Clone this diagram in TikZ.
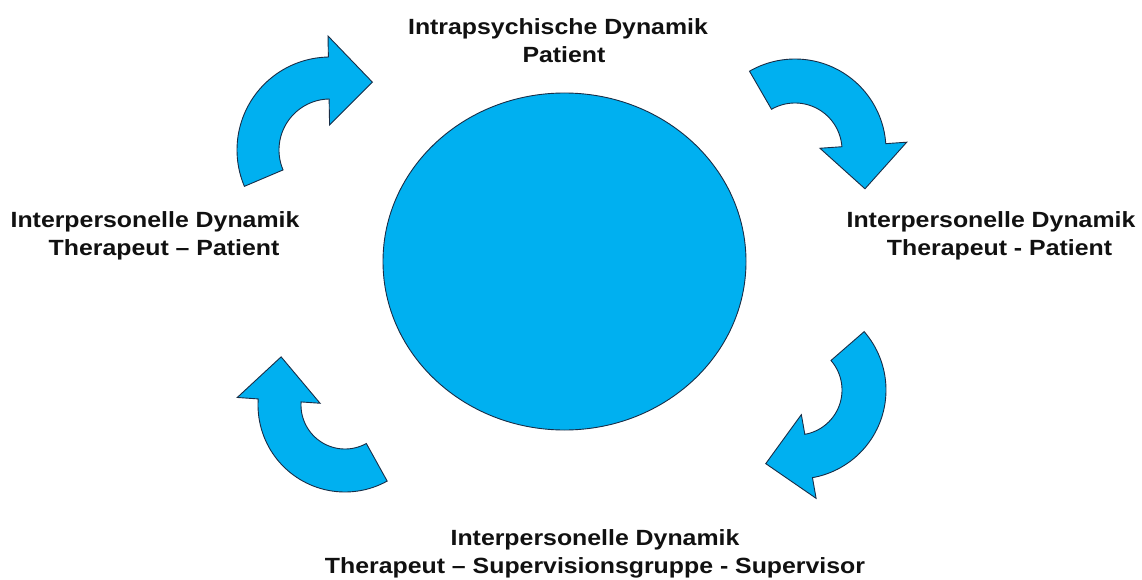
\documentclass[tikz,border=0pt]{standalone}
\usepackage{fontspec}
\usetikzlibrary{shapes.geometric}
\newfontfamily\labfont[FakeStretch=1.13]{Liberation Sans}
\definecolor{ringblue}{RGB}{0,176,240}
\definecolor{edgecol}{RGB}{25,45,70}
\definecolor{inkcol}{RGB}{17,17,17}
% curved cycle arrow: #1 cx, #2 cy, #3 tail angle, #4 head angle, #5 outer r, #6 inner r
\newcommand\cycarrow[6]{%
  \filldraw[cycarrowstyle]
    plot[domain=#3:#4, samples=50] ({#1+#5*cos(\x)},{#2+#5*sin(\x)})
    -- ({#1+(#5+21)*cos(#4)},{#2+(#5+21)*sin(#4)})
    -- ({#1+80*cos(#4+33)},{#2+80*sin(#4+33)})
    -- ({#1+25*cos(#4)},{#2+25*sin(#4)})
    -- plot[domain=#4:#3, samples=50] ({#1+#6*cos(\x)},{#2+#6*sin(\x)})
    -- cycle;}
\begin{document}
\begin{tikzpicture}[x=1pt,y=-1pt,
  cycarrowstyle/.style={fill=ringblue,draw=edgecol,line width=0.9pt,line join=miter},
  corestyle/.style={ellipse,fill=ringblue,draw=edgecol,line width=0.9pt,inner sep=0pt},
  lab/.style={font=\labfont\bfseries\fontsize{22}{28}\selectfont,text=inkcol,
    align=center,inner sep=0pt,anchor=north}]
\useasboundingbox (0,0) rectangle (1142,580);
\fill[white] (0,0) rectangle (1142,580);
\node[corestyle,minimum width=363pt,minimum height=337pt] (core) at (564.5,261.5) {};
\cycarrow{330}{150}{157}{269}{93}{51}
\cycarrow{795}{150}{240}{356}{91}{47}
\cycarrow{797}{390}{319}{440}{89}{45}
\cycarrow{345}{405}{61}{184}{87}{44}
\node[lab] (intra) at (558,18.2) {Intrapsychische Dynamik\\\hspace*{12pt}Patient};
\node[lab] (leftlab) at (155,211.2) {Interpersonelle Dynamik\\\hspace*{18pt}Therapeut – Patient};
\node[lab] (rightlab) at (991,211.2) {Interpersonelle Dynamik\\\hspace*{17pt}Therapeut - Patient};
\node[lab] (bottomlab) at (595,529.2) {Interpersonelle Dynamik\\Therapeut – Supervisionsgruppe - Supervisor};
\end{tikzpicture}
\end{document}
